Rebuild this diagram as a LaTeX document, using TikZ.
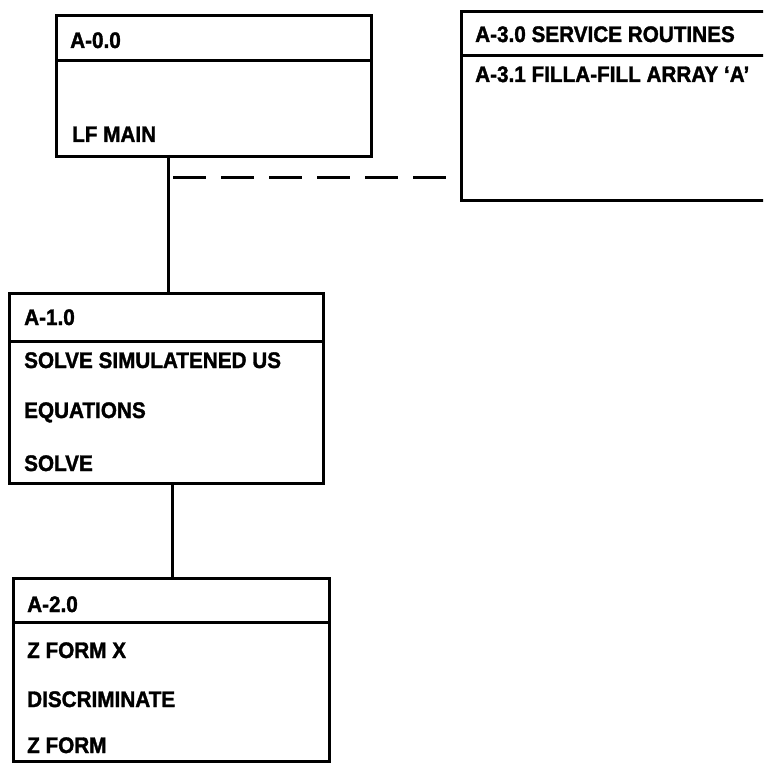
\documentclass[tikz,border=0pt]{standalone}
\usepackage{fontspec}
\setmainfont{Liberation Sans}[BoldFeatures={FakeBold=1.5,FakeStretch=0.92}]
\begin{document}
\begin{tikzpicture}[x=1pt,y=-1pt,
  box/.style={draw, line width=3pt, rectangle, inner sep=0pt, anchor=north west},
  rule/.style={line width=3pt},
  conn/.style={line width=3pt},
  dashconn/.style={line width=3pt, dash pattern=on 33pt off 15pt},
  lbl/.style={anchor=base west, inner sep=0pt, font=\fontsize{22.5}{26}\selectfont\bfseries}]
\useasboundingbox (0,0) rectangle (763,767);
\clip (0,0) rectangle (763,767);
% boxes
\node[box, minimum width=315pt, minimum height=141pt] (a0) at (55,14) {};
\node[box, minimum width=315pt, minimum height=189pt] (a3) at (460,10) {};
\node[box, minimum width=314pt, minimum height=190pt] (a1) at (8,292) {};
\node[box, minimum width=316pt, minimum height=183pt] (a2) at (12,577) {};
% header rules
\draw[rule] (a0.west |- 0,61) -- (a0.east |- 0,61);
\draw[rule] (a3.west |- 0,56) -- (a3.east |- 0,56);
\draw[rule] (a1.west |- 0,341) -- (a1.east |- 0,341);
\draw[rule] (a2.west |- 0,622) -- (a2.east |- 0,622);
% texts
\node[lbl] (t00) at (70,48) {A-0.0};
\node[lbl] (t01) at (72,142) {LF MAIN};
\node[lbl] (t30) at (475,42) {A-3.0 SERVICE ROUTINES};
\node[lbl] (t31) at (475,82) {A-3.1 FILLA-FILL ARRAY `A'};
\node[lbl] (t10) at (24,325) {A-1.0};
\node[lbl] (t11) at (24,368) {SOLVE SIMULATENED US};
\node[lbl] (t12) at (24,418) {EQUATIONS};
\node[lbl] (t13) at (24,471) {SOLVE};
\node[lbl] (t20) at (27,612) {A-2.0};
\node[lbl] (t21) at (27,658) {Z FORM X};
\node[lbl] (t22) at (27,707) {DISCRIMINATE};
\node[lbl] (t23) at (27,753) {Z FORM};
% connectors
\coordinate (j0) at (168,155);
\coordinate (j1) at (172,482);
\coordinate (d0) at (173,178);
\draw[conn] (j0) -- (j0 |- a1.north);
\draw[conn] (j1) -- (j1 |- a2.north);
\draw[dashconn, shorten >=12pt] (d0) -- (d0 -| a3.west);
\end{tikzpicture}
\end{document}
